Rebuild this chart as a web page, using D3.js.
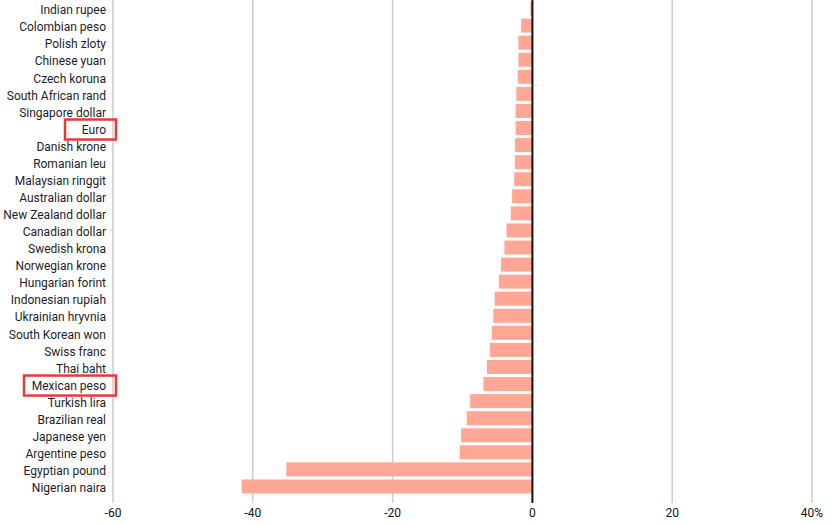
<!DOCTYPE html>
<html>
<head>
<meta charset="utf-8">
<script src="https://cdn.jsdelivr.net/npm/d3@7"></script>
<style>
  body { margin: 0; background: #fff; }
  svg { display: block; }
  text { font-family: Roboto, "Noto Sans", sans-serif; }
</style>
</head>
<body>
<svg id="chart" width="838" height="524"></svg>
<script>
// Currency change vs dollar, %
var currencies = ["Indian rupee", "Colombian peso", "Polish zloty", "Chinese yuan",
  "Czech koruna", "South African rand", "Singapore dollar", "Euro", "Danish krone",
  "Romanian leu", "Malaysian ringgit", "Australian dollar", "New Zealand dollar",
  "Canadian dollar", "Swedish krona", "Norwegian krone", "Hungarian forint",
  "Indonesian rupiah", "Ukrainian hryvnia", "South Korean won", "Swiss franc",
  "Thai baht", "Mexican peso", "Turkish lira", "Brazilian real", "Japanese yen",
  "Argentine peso", "Egyptian pound", "Nigerian naira"];
var changes = [-0.3, -1.6, -2.0, -2.0, -2.1, -2.3, -2.4, -2.4, -2.5,
  -2.5, -2.6, -2.9, -3.1, -3.7, -4.0, -4.5, -4.8, -5.4, -5.6, -5.8, -6.1,
  -6.5, -7.0, -8.9, -9.4, -10.2, -10.4, -35.2, -41.6];
var ticks = [-60, -40, -20, 0, 20, 40];
var highlighted = ["Euro", "Mexican peso"];

var svg = d3.select("#chart");

var x = d3.scaleLinear().domain([-60, 40]).range([113, 812]);
var y = d3.scaleBand().domain(currencies).range([0, 495])
  .paddingInner(0.18).paddingOuter(0.09);

// gridlines
svg.append("g").selectAll("line")
  .data(ticks.filter(function(d) { return d !== 0; }))
  .enter().append("line")
    .attr("x1", function(d) { return x(d); })
    .attr("x2", function(d) { return x(d); })
    .attr("y1", 0).attr("y2", 503)
    .style("stroke", "#cccccc")
    .style("stroke-width", 1.5);

// bars
svg.append("g").selectAll("rect")
  .data(currencies)
  .enter().append("rect")
    .attr("x", function(d, i) { return x(Math.min(0, changes[i])); })
    .attr("y", function(d) { return y(d); })
    .attr("width", function(d, i) { return Math.abs(x(changes[i]) - x(0)); })
    .attr("height", y.bandwidth())
    .style("fill", "#ffa794");

// zero line
svg.append("line")
  .attr("x1", x(0)).attr("x2", x(0))
  .attr("y1", 0).attr("y2", 503)
  .style("stroke", "#111")
  .style("stroke-width", 2);

// category labels
svg.append("g").selectAll("text")
  .data(currencies)
  .enter().append("text")
    .attr("x", 106)
    .attr("y", function(d) { return y(d) + y.bandwidth() / 2 + 1.5; })
    .attr("dy", "0.35em")
    .attr("text-anchor", "end")
    .style("font-size", "12px")
    .style("fill", "#1d1d2b")
    .text(function(d) { return d; });

// highlight boxes
var boxWidth = {"Euro": 51, "Mexican peso": 92};
svg.append("g").selectAll("rect")
  .data(highlighted)
  .enter().append("rect")
    .attr("x", function(d) { return 116 - boxWidth[d]; })
    .attr("y", function(d) { return y(d) + y.bandwidth() / 2 - 8.5; })
    .attr("width", function(d) { return boxWidth[d]; })
    .attr("height", 20)
    .style("fill", "none")
    .style("stroke", "#e8383a")
    .style("stroke-width", 2.5);

// x axis labels
svg.append("g").selectAll("text")
  .data(ticks)
  .enter().append("text")
    .attr("x", function(d) { return x(d); })
    .attr("y", 517)
    .attr("text-anchor", "middle")
    .style("font-size", "12px")
    .style("fill", "#111")
    .text(function(d) { return d === 40 ? d + "%" : d; });
</script>
</body>
</html>
